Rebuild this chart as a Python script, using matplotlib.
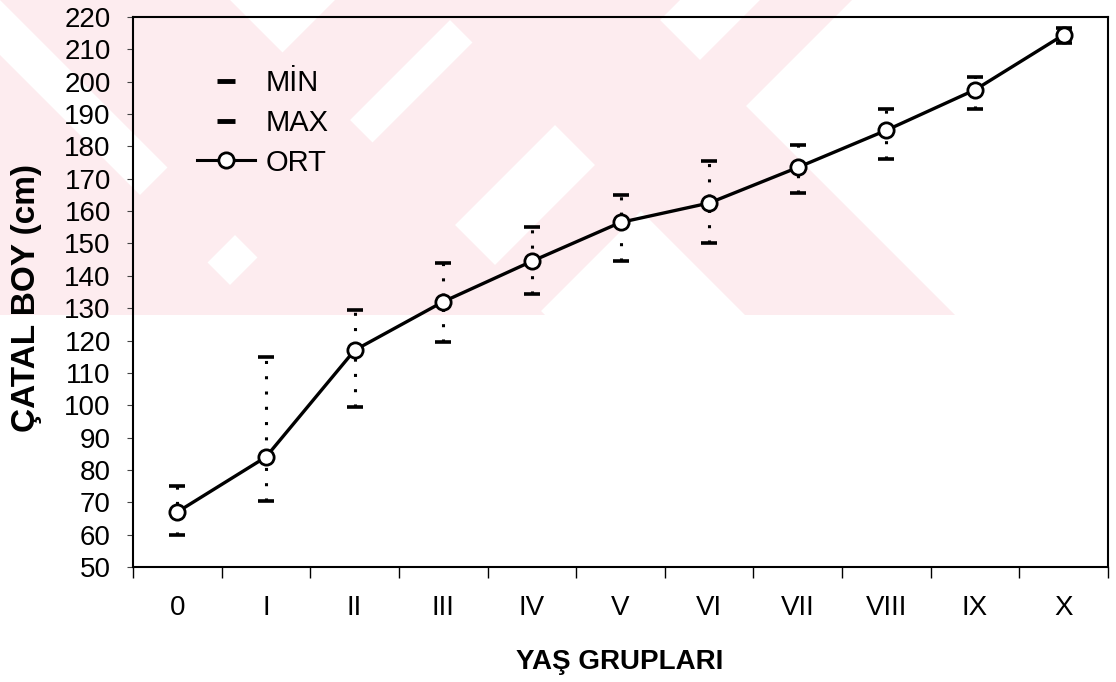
import matplotlib.pyplot as plt
from matplotlib.lines import Line2D
from matplotlib.patches import Polygon
import numpy as np

# age groups and fork length values (cm)
groups = ['0', 'I', 'II', 'III', 'IV', 'V', 'VI', 'VII', 'VIII', 'IX', 'X']
ort = [67, 84, 117, 132, 144.5, 156.5, 162.5, 173.5, 185, 197.5, 214.5]
max_vals = [75, 115, 129.5, 144, 155, 165, 175.5, 180.5, 191.5, 201.5, 216.5]
min_vals = [60, 70.5, 99.5, 119.5, 134.5, 144.5, 150, 165.5, 176, 191.5, 212]
legend_labels = ['MİN', 'MAX', 'ORT']

plt.rcParams['font.family'] = ['Liberation Sans', 'DejaVu Sans']
narrow = ['Liberation Sans Narrow', 'Liberation Sans', 'DejaVu Sans']

W, H = 1116, 682
fig = plt.figure(figsize=(W / 100, H / 100), dpi=100)
fig.patch.set_facecolor('white')

# faint pink watermark over the upper part of the scanned page
pink = '#fdecef'
wm_h = 315
bands = [('\\', -330, -55), ('\\', 0, 230), ('/', 335, 470),
         ('/', 515, 680), ('\\', 430, 640), ('/', 760, 852)]
for kind, a, b in bands:
    if kind == '\\':
        pts = [(a, 0), (b, 0), (b + wm_h, wm_h), (a + wm_h, wm_h)]
    else:
        pts = [(a, 0), (b, 0), (b - wm_h, wm_h), (a - wm_h, wm_h)]
    pts = [(px / W, 1 - py / H) for px, py in pts]
    fig.add_artist(Polygon(pts, closed=True, transform=fig.transFigure,
                           facecolor=pink, edgecolor='none', zorder=-10))

ax = fig.add_axes([133 / W, 1 - 567 / H, 975 / W, 550 / H])
ax.patch.set_alpha(0)

x = np.arange(len(groups)) + 0.5

# dotted range lines
for xi, lo, hi in zip(x, min_vals, max_vals):
    ax.plot([xi, xi], [lo, hi], color='k', lw=2.2, ls=(0, (1, 4)), zorder=2)

ax.plot(x, max_vals, ls='none', marker='_', ms=11, mew=2.6, color='k', zorder=3)
ax.plot(x, min_vals, ls='none', marker='_', ms=11, mew=2.6, color='k', zorder=3)
ax.plot(x, ort, color='k', lw=2.4, marker='o', ms=11, mfc='white',
        mec='k', mew=2, zorder=4)

ax.set_xlim(0, len(groups))
ax.set_ylim(50, 220)
ax.set_yticks(range(50, 221, 10))
ax.set_xticks(range(len(groups) + 1))
ax.set_xticklabels([])
ax.set_xticks(x, minor=True)
ax.set_xticklabels(groups, minor=True, family=narrow, fontsize=20)
ax.tick_params(axis='x', which='major', direction='out', length=8, width=1)
ax.tick_params(axis='x', which='minor', length=0, pad=20)
ax.tick_params(axis='y', direction='out', length=4, width=0.8,
               color='#444444', labelsize=20, pad=12)
for s in ax.spines.values():
    s.set_linewidth(1.5)

handles = [Line2D([], [], ls='none', marker='_', ms=13, mew=3.5, color='k'),
           Line2D([], [], ls='none', marker='_', ms=13, mew=3.5, color='k'),
           Line2D([], [], color='k', lw=2.2, marker='o', ms=11, mfc='white',
                  mec='k', mew=2)]
ax.legend(handles, legend_labels, loc='upper left', bbox_to_anchor=(0.0656, 0.905),
          frameon=False, fontsize=21, handlelength=2.0, handletextpad=0.35,
          labelspacing=0.4, borderpad=0, borderaxespad=0)

fig.text(620 / W, 1 - 662 / H, 'YAŞ GRUPLARI', ha='center', va='center',
         fontsize=20, fontweight='bold', family=narrow)
fig.text(27 / W, 1 - 298 / H, 'ÇATAL BOY (cm)', ha='center', va='center',
         rotation=90, fontsize=24, fontweight='bold')

fig.savefig('out.png', dpi=100)
